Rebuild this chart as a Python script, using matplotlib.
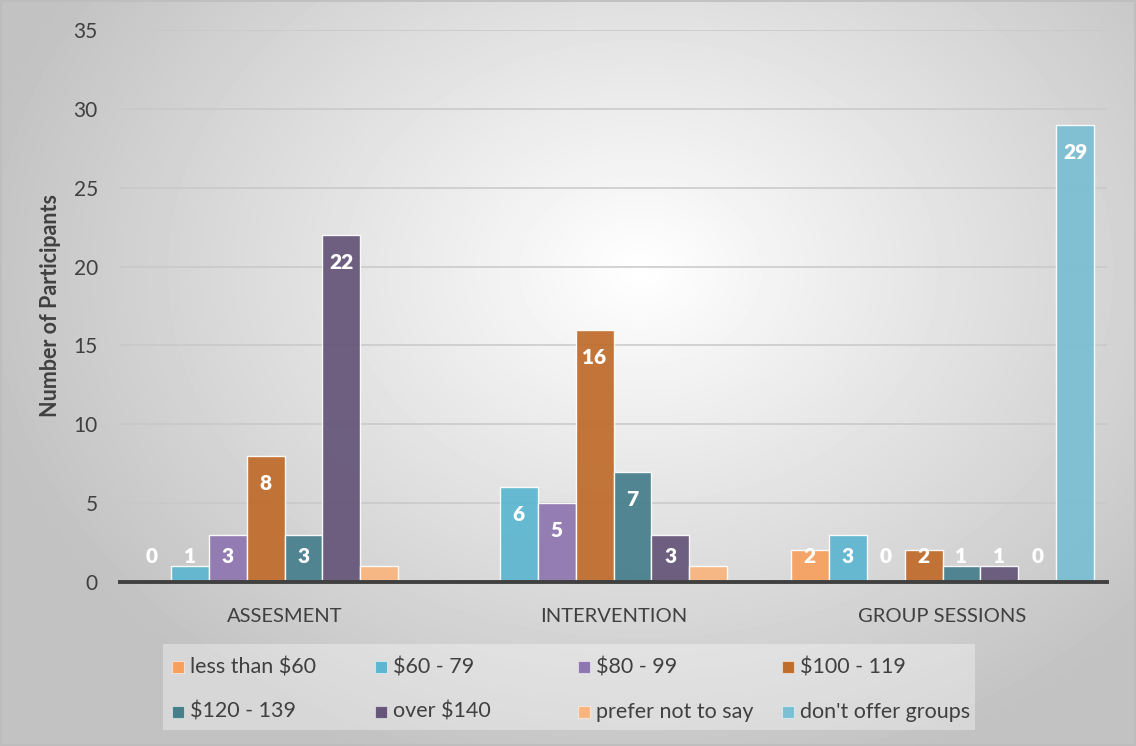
import numpy as np
import matplotlib
matplotlib.use("Agg")
import matplotlib.pyplot as plt
from matplotlib.patches import Rectangle

plt.rcParams['font.family'] = ['Lato', 'DejaVu Sans']

categories = ["ASSESMENT", "INTERVENTION", "GROUP SESSIONS"]
series_names = ["less than $60", "$60 - 79", "$80 - 99", "$100 - 119",
                "$120 - 139", "over $140", "prefer not to say", "don't offer groups"]
colors = ["#F7A05E", "#5CB6CF", "#8E76B0", "#C06C2B",
          "#467E8C", "#655579", "#F9B57F", "#7BBFD3"]

nan = np.nan
less_60 = [0, nan, 2]
r60_79 = [1, 6, 3]
r80_99 = [3, 5, 0]
r100_119 = [8, 16, 2]
r120_139 = [3, 7, 1]
over_140 = [22, 3, 1]
prefer_not = [1, 1, 0]
no_groups = [nan, nan, 29]
values = [less_60, r60_79, r80_99, r100_119, r120_139, over_140, prefer_not, no_groups]

# which points carry a data label
shown = [[1, 0, 1], [1, 1, 1], [1, 1, 1], [1, 1, 1],
         [1, 1, 1], [1, 1, 1], [0, 0, 1], [0, 0, 1]]

W, H = 1136, 746
fig = plt.figure(figsize=(W / 100, H / 100), dpi=100)

# radial gradient background
bg = fig.add_axes([0, 0, 1, 1], zorder=-10)
yy, xx = np.mgrid[0:H, 0:W]
d = np.sqrt(((xx - 640) / 900.0) ** 2 + ((yy - 270) / 700.0) ** 2)
shade = np.clip(1.0 - 0.32 * d, 0.76, 1.0)
bg.imshow(shade, cmap="gray", vmin=0, vmax=1, aspect="auto", interpolation="bilinear")
bg.axis("off")
fig.patches.append(Rectangle((0.001, 0.001), 0.998, 0.998, transform=fig.transFigure,
                             fill=False, edgecolor="#bdbdbd", linewidth=1.2))

ax = fig.add_axes([120 / W, 164 / H, 987 / W, 552 / H])
ax.set_facecolor("none")

x = np.arange(len(categories))
width = 0.1155
for i, (name, vals, col) in enumerate(zip(series_names, values, colors)):
    pos = x + (i - 3.5) * width
    ax.bar(pos, vals, width, color=col, edgecolor=(1, 1, 1, 0.45), linewidth=1.0,
           alpha=0.93, zorder=3, label=name)
    for px, v, s in zip(pos, vals, shown[i]):
        if s and not np.isnan(v):
            ax.text(px, max(v - 1.75, 1.6), f"{int(v)}", ha="center", va="center",
                    color="white", fontsize=15, fontweight="heavy", zorder=5)

ax.set_xlim(-0.5, 2.5)
ax.set_ylim(0, 35)
ax.set_yticks(range(0, 36, 5))
ax.set_xticks(x)
ax.set_xticklabels(categories, fontsize=14.5, color="#404040")
ax.tick_params(axis="y", labelsize=15, colors="#404040", length=0, pad=16)
ax.tick_params(axis="x", length=0, pad=19)
ax.grid(axis="y", color="#c8c8c8", linewidth=1.1, zorder=4)
for sp in ["top", "right", "left"]:
    ax.spines[sp].set_visible(False)
ax.spines["bottom"].set_color("#404040")
ax.spines["bottom"].set_linewidth(2.8)
ax.spines["bottom"].set_zorder(6)
ax.set_ylabel("Number of Participants", fontsize=15.5, fontweight="bold", color="#404040", labelpad=9)

# legend laid out as in the original: 2 rows x 4 equal columns
fig.patches.append(Rectangle((163 / W, 1 - 730 / H), 812 / W, 86 / H, transform=fig.transFigure,
                             facecolor=(1, 1, 1, 0.35), edgecolor="none"))
col_x = [172, 375, 578, 782]
row_y = [667, 712]
for k, (name, col) in enumerate(zip(series_names, colors)):
    cx = col_x[k % 4]
    cy = row_y[k // 4]
    fig.patches.append(Rectangle((cx / W, 1 - (cy + 6) / H), 12 / W, 12 / H, transform=fig.transFigure,
                                 facecolor=col, edgecolor=(1, 1, 1, 0.5), linewidth=0.8))
    fig.text((cx + 18) / W, 1 - cy / H, name, ha="left", va="center", fontsize=15.5, color="#404040")

fig.savefig("out.png", dpi=100)
